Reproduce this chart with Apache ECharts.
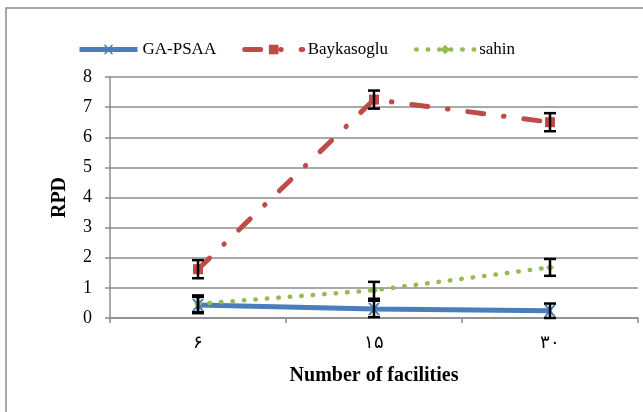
<!DOCTYPE html>
<html>
<head>
<meta charset="utf-8">
<script src="https://cdn.jsdelivr.net/npm/echarts@6/dist/echarts.min.js"></script>
<style>
html,body{margin:0;padding:0;background:#fff;}
#chart{width:643px;height:412px;}
</style>
</head>
<body>
<div id="chart"></div>
<script>
// data
var categories=['۶','۱۵','۳۰'];
var gaPsaa=[0.43,0.3,0.24];
var gaPsaaErr=[0.27,0.27,0.24];
var baykasoglu=[1.62,7.25,6.5];
var baykasogluErr=[0.3,0.3,0.3];
var sahin=[0.47,0.92,1.68];
var sahinErr=[0.28,0.28,0.28];
var yTicks=[0,8,1];

var font='"Liberation Serif", "Times New Roman", serif';
var grey='#8c8c8c';

// error bar rows: [index, value, err]
function errRows(vals,errs){
	var rows=[];
	for(var i=0;i<vals.length;i++){
		rows.push([i,vals[i],errs[i]]);
	}
	return rows;
}
function renderErr(params,api){
	var x=api.value(0),v=api.value(1),e=api.value(2);
	var top=api.coord([x,v+e]);
	var bot=api.coord([x,v-e]);
	var w=6;
	var st={stroke:'#000',lineWidth:2.5};
	return {type:'group',children:[
		{type:'line',shape:{x1:top[0],y1:top[1],x2:bot[0],y2:bot[1]},style:st},
		{type:'line',shape:{x1:top[0]-w,y1:top[1],x2:top[0]+w,y2:top[1]},style:st},
		{type:'line',shape:{x1:bot[0]-w,y1:bot[1],x2:bot[0]+w,y2:bot[1]},style:st}
	]};
}
var xMark='path://M0,0 L2,0 L5,3.5 L8,0 L10,0 L6,5 L10,10 L8,10 L5,6.5 L2,10 L0,10 L4,5 Z';

var mychart=echarts.init(document.getElementById('chart'));
var option={
	animation:false,
	textStyle:{fontFamily:font},
	graphic:[{
		type:'rect',
		shape:{x:6,y:8,width:700,height:500},
		style:{fill:'none',stroke:grey,lineWidth:1.5},
		silent:true
	}],
	legend:{
		top:36,
		left:72,
		itemWidth:58,
		itemHeight:12,
		itemGap:26,
		textStyle:{fontFamily:font,fontSize:17,color:'#000'},
		data:[
			{name:'GA-PSAA',lineStyle:{width:5}},
			{name:'Baykasoglu',lineStyle:{width:5}},
			{name:'sahin',lineStyle:{width:4.5}}
		]
	},
	grid:{left:110,right:5,top:77,bottom:94},
	xAxis:{
		type:'category',
		data:categories,
		boundaryGap:true,
		name:'Number of facilities',
		nameLocation:'middle',
		nameGap:48,
		nameTextStyle:{fontFamily:font,fontSize:20,fontWeight:'bold',color:'#000'},
		axisLine:{lineStyle:{color:grey,width:1.5}},
		axisTick:{show:true,length:5,lineStyle:{color:grey,width:1.5}},
		axisLabel:{fontSize:18,color:'#000',margin:16,fontFamily:font}
	},
	yAxis:{
		type:'value',
		min:yTicks[0],
		max:yTicks[1],
		interval:yTicks[2],
		name:'RPD',
		nameLocation:'middle',
		nameGap:40,
		nameRotate:90,
		nameTextStyle:{fontFamily:font,fontSize:20,fontWeight:'bold',color:'#000'},
		axisLine:{show:true,lineStyle:{color:grey,width:1.5}},
		axisTick:{show:true,length:5,lineStyle:{color:grey,width:1.5}},
		axisLabel:{fontSize:18,color:'#000',margin:18,fontFamily:font},
		splitLine:{lineStyle:{color:grey,width:1.5}}
	},
	series:[
		{
			name:'GA-PSAA',
			type:'line',
			data:gaPsaa,
			symbol:xMark,
			symbolSize:12,
			itemStyle:{color:'#4a7ebb'},
			lineStyle:{color:'#4a7ebb',width:5},
			z:3
		},
		{
			name:'Baykasoglu',
			type:'line',
			data:baykasoglu,
			symbol:'rect',
			symbolSize:10,
			itemStyle:{color:'#be4b48'},
			lineStyle:{color:'#be4b48',width:5,type:[16,20,0.5,20],cap:'round'},
			z:3
		},
		{
			name:'sahin',
			type:'line',
			data:sahin,
			symbol:'diamond',
			symbolSize:8,
			itemStyle:{color:'#98b954'},
			lineStyle:{color:'#98b954',width:4.5,type:[0.5,11],cap:'round'},
			z:3
		},
		{type:'custom',data:errRows(gaPsaa,gaPsaaErr),renderItem:renderErr,z:4,silent:true},
		{type:'custom',data:errRows(baykasoglu,baykasogluErr),renderItem:renderErr,z:4,silent:true},
		{type:'custom',data:errRows(sahin,sahinErr),renderItem:renderErr,z:4,silent:true}
	]
};
mychart.setOption(option);
</script>
</body>
</html>
